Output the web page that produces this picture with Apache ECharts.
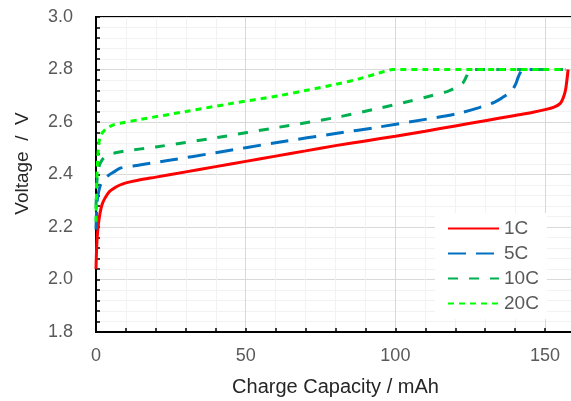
<!DOCTYPE html>
<html>
<head>
<meta charset="utf-8">
<script src="https://cdn.jsdelivr.net/npm/echarts@6/dist/echarts.min.js"></script>
<style>
html,body{margin:0;padding:0;background:#fff;}
#chart{width:571px;height:401px;}
</style>
</head>
<body>
<div id="chart"></div>
<script>
const seriesNames = ['1C', '5C', '10C', '20C'];

const cap1C  = [0, 0.15, 0.4, 0.8, 1.3, 2, 3, 4.5, 6, 8, 10, 14, 20, 30, 40, 50, 60, 70, 80, 90, 100, 110, 120, 130, 140, 146, 150, 153, 155, 156, 156.8, 157.3, 157.7];
const volt1C = [2.04, 2.1, 2.16, 2.21, 2.25, 2.285, 2.31, 2.335, 2.348, 2.36, 2.368, 2.378, 2.39, 2.41, 2.43, 2.45, 2.47, 2.49, 2.51, 2.528, 2.546, 2.565, 2.585, 2.605, 2.625, 2.637, 2.647, 2.657, 2.67, 2.69, 2.72, 2.76, 2.80];

const cap5C  = [0, 0.2, 0.5, 1, 1.5, 2.5, 4, 6, 8, 15, 25, 40, 61, 80, 94, 110, 120, 128, 133, 136, 138.5, 140, 141, 141.8, 142.5, 150, 155];
const volt5C = [2.19, 2.26, 2.31, 2.34, 2.36, 2.38, 2.395, 2.41, 2.424, 2.437, 2.455, 2.483, 2.523, 2.556, 2.58, 2.61, 2.63, 2.655, 2.675, 2.695, 2.715, 2.74, 2.77, 2.79, 2.80, 2.80, 2.80];

const cap10C  = [0, 0.2, 0.5, 1, 2, 3.5, 5.6, 10, 20, 40, 61, 80, 94.4, 105, 112, 117, 120, 122.5, 123.8, 125, 135, 150, 156];
const volt10C = [2.27, 2.35, 2.4, 2.43, 2.455, 2.47, 2.48, 2.49, 2.505, 2.54, 2.58, 2.617, 2.652, 2.68, 2.70, 2.715, 2.73, 2.748, 2.775, 2.8, 2.8, 2.8, 2.8];

const cap20C  = [0, 0.2, 0.5, 0.9, 1.3, 2.2, 3.6, 6, 8, 15, 30, 45, 61, 70, 80, 88, 94.4, 97, 99, 110, 130, 150, 157];
const volt20C = [2.22, 2.35, 2.45, 2.51, 2.54, 2.56, 2.576, 2.59, 2.595, 2.61, 2.64, 2.67, 2.70, 2.72, 2.743, 2.765, 2.786, 2.795, 2.8, 2.8, 2.8, 2.8, 2.8];

const xTicks = [0, 50, 100, 150];
const yTicks = [1.8, 2.0, 2.2, 2.4, 2.6, 2.8, 3.0];

function pairs(xs, ys) { return xs.map((x, i) => [x, ys[i]]); }

const FONT = "'Liberation Sans', Arial, sans-serif";
const chart = echarts.init(document.getElementById('chart'), null, {renderer: 'canvas'});

const styles = [
  {color: '#ff0000', type: 'solid'},
  {color: '#0070c0', type: [18, 10]},
  {color: '#00b050', type: [10, 11]},
  {color: '#00ff00', type: [6, 5]}
];
const dataSets = [pairs(cap1C, volt1C), pairs(cap5C, volt5C), pairs(cap10C, volt10C), pairs(cap20C, volt20C)];

chart.setOption({
  animation: false,
  backgroundColor: '#fff',
  grid: {left: 96, width: 479, top: 17, bottom: 69, outerBoundsMode: 'none', containLabel: false,
    show: true, borderColor: '#000', borderWidth: 2, backgroundColor: 'transparent'},
  legend: {
    orient: 'vertical', left: 435, top: 213,
    padding: [6, 8, 6, 12], itemGap: 6, itemWidth: 51, itemHeight: 14,
    backgroundColor: '#fff',
    itemStyle: {opacity: 0},
    textStyle: {fontFamily: FONT, fontSize: 19, color: '#595959'},
    data: seriesNames
  },
  xAxis: {
    type: 'value', min: 0, max: 160, interval: 50,
    name: 'Charge Capacity / mAh', nameLocation: 'middle', nameGap: 45,
    nameTextStyle: {fontFamily: FONT, fontSize: 20, color: '#262626'},
    axisLine: {show: true, onZero: false, lineStyle: {color: '#000', width: 2}},
    axisTick: {show: true, inside: true, length: 4, lineStyle: {color: '#000', width: 1.5}},
    minorTick: {show: true, splitNumber: 5, length: 4, lineStyle: {color: '#000', width: 1.5}},
    axisLabel: {fontFamily: FONT, fontSize: 18, color: '#595959', margin: 15, showMaxLabel: false,
      formatter: v => xTicks.indexOf(v) >= 0 ? String(v) : ''},
    splitLine: {show: true, lineStyle: {color: '#d9d9d9', width: 1}},
    minorSplitLine: {show: true, lineStyle: {color: '#f2f2f2', width: 1}}
  },
  yAxis: {
    type: 'value', min: 1.8, max: 3.0, interval: 0.2,
    name: 'Voltage  /  V', nameLocation: 'middle', nameGap: 64, nameRotate: 90,
    nameTextStyle: {fontFamily: FONT, fontSize: 19, color: '#262626', padding: [0, 0, 0, 22]},
    axisLine: {show: true, onZero: false, lineStyle: {color: '#000', width: 2}},
    axisTick: {show: true, inside: true, length: 4, lineStyle: {color: '#000', width: 1.5}},
    minorTick: {show: true, splitNumber: 5, length: 4, lineStyle: {color: '#000', width: 1.5}},
    axisLabel: {fontFamily: FONT, fontSize: 18, color: '#595959', margin: 23,
      formatter: v => {
        const t = yTicks.find(k => Math.abs(k - v) < 1e-6);
        return t !== undefined ? t.toFixed(1) : '';
      }},
    splitLine: {show: true, lineStyle: {color: '#d9d9d9', width: 1}},
    minorSplitLine: {show: true, lineStyle: {color: '#f2f2f2', width: 1}}
  },
  series: seriesNames.map((n, i) => ({
    name: n, type: 'line', data: dataSets[i], showSymbol: false, symbol: 'none',
    smooth: 0.3, clip: true,
    lineStyle: {color: styles[i].color, width: 3, type: styles[i].type, cap: 'butt'},
    itemStyle: {color: styles[i].color}
  }))
});
</script>
</body>
</html>
